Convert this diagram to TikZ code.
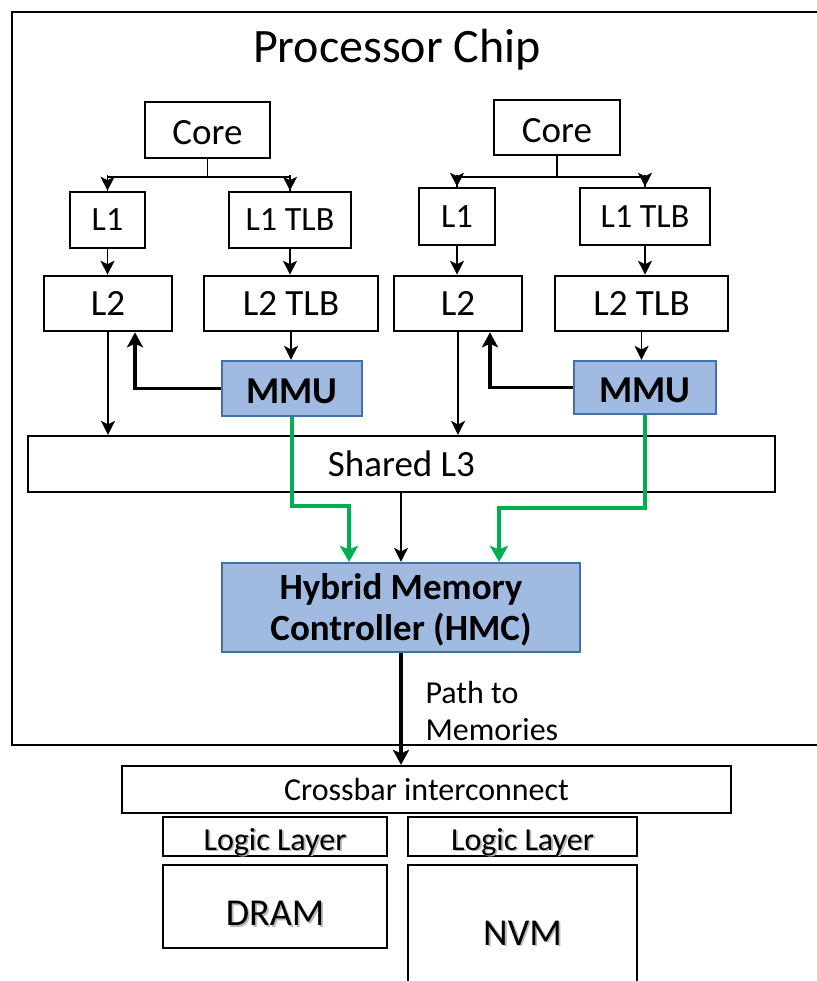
\documentclass[tikz,border=0pt]{standalone}
\usepackage{fontspec}
\setmainfont{Carlito}
\usetikzlibrary{arrows.meta,calc}

\definecolor{mmufill}{RGB}{160,186,226}
\definecolor{mmuline}{RGB}{65,113,170}
\definecolor{pathgreen}{RGB}{0,176,80}

% text with a soft drop shadow
\newcommand\shtext[1]{\makebox[0pt][l]{\kern1.8pt\raisebox{-1.8pt}{\textcolor{black!28}{#1}}}#1}

\tikzset{
  box/.style={draw=black, line width=2.6pt, fill=white, inner sep=0pt,
              font=\fontsize{37}{40}\selectfont},
  unit/.style={box, draw=mmuline, fill=mmufill, line width=2.2pt,
               font=\bfseries\fontsize{38}{42}\selectfont},
  thin/.style={line width=1.6pt, -{Stealth[length=14pt,width=14pt,inset=3.5pt]}},
  thick/.style={line width=3.6pt, -{Stealth[length=15pt,width=16pt,inset=3.5pt]}},
  green/.style={draw=pathgreen, line width=4.2pt,
                -{Stealth[length=16pt,width=18pt,inset=3.5pt]}},
  plain/.style={line width=1.6pt},
}

\begin{document}
\begin{tikzpicture}[x=1pt,y=-1pt]
\useasboundingbox (0,0) rectangle (816,981);

% chip outline
\draw[line width=2.6pt] (12,12) rectangle (840,745);
\node[font=\fontsize{48}{50}\selectfont] (title) at (397,50) {Processor Chip};

% left core
\node[box, minimum width=125, minimum height=56, text height=30pt, text depth=0pt] (corea) at (207.5,130) {Core};
\node[box, minimum width=75, minimum height=56, font=\fontsize{34}{38}\selectfont] (l1a) at (107.5,220) {L1};
\node[box, minimum width=122, minimum height=56, font=\fontsize{34}{38}\selectfont] (tlb1a) at (290,220) {L1 TLB};
\node[box, minimum width=128, minimum height=55] (l2a) at (108,303.5) {L2};
\node[box, minimum width=174, minimum height=55] (tlb2a) at (291,303.5) {L2 TLB};
\node[unit, minimum width=140, minimum height=55, text height=30pt, text depth=0pt] (mmua) at (292,388.5) {MMU};

% right core
\node[box, minimum width=126, minimum height=55, text height=30pt, text depth=0pt] (coreb) at (557,127.5) {Core};
\node[box, minimum width=76, minimum height=57, font=\fontsize{34}{38}\selectfont] (l1b) at (457,216.5) {L1};
\node[box, minimum width=130, minimum height=57, font=\fontsize{34}{38}\selectfont] (tlb1b) at (645,216.5) {L1 TLB};
\node[box, minimum width=128, minimum height=55] (l2b) at (458,303.5) {L2};
\node[box, minimum width=173, minimum height=55] (tlb2b) at (641.5,303.5) {L2 TLB};
\node[unit, minimum width=142, minimum height=53, text height=30pt, text depth=0pt] (mmub) at (645,387.5) {MMU};

% shared parts
\node[box, line width=2.2pt, minimum width=747, minimum height=56] (l3) at (401.5,464) {Shared L3};
\node[unit, minimum width=358, minimum height=89, align=center,
      font=\bfseries\fontsize{37}{41}\selectfont] (hmc) at (401,607.5)
      {\rule{0pt}{30pt}Hybrid Memory\\Controller (HMC)};
\node[anchor=west, align=left, font=\fontsize{32}{37}\selectfont] (pathlbl) at (422,711) {Path to\\Memories};

% memory side
\node[box, line width=2.2pt, minimum width=609, minimum height=47, font=\fontsize{32}{36}\selectfont] (xbar) at (426.5,789.5) {Crossbar interconnect};
\node[box, minimum width=224, minimum height=39, font=\fontsize{32}{36}\selectfont,
      text height=27pt, text depth=0pt] (lla) at (275,836.5) {\shtext{Logic Layer}};
\node[box, minimum width=229, minimum height=39, font=\fontsize{32}{36}\selectfont,
      text height=27pt, text depth=0pt] (llb) at (522.5,836.5) {\shtext{Logic Layer}};
\node[box, minimum width=224, minimum height=83, font=\fontsize{38}{40}\selectfont,
      text height=38pt, text depth=0pt] (dram) at (275,906.5) {\shtext{DRAM}};
\node[box, minimum width=229, minimum height=150, font=\fontsize{38}{40}\selectfont,
      text height=10pt, text depth=0pt] (nvm) at (522.5,940) {\shtext{NVM}};

% core fan-out
\coordinate (forka) at ($(corea.south)+(0,18)$);
\draw[plain] (corea.south) -- (forka);
\draw[plain] (forka) -| (l1a.north) (forka) -| (tlb1a.north);
\draw[thin] ($(l1a.north)+(0,-16)$) -- (l1a.north);
\draw[thin] ($(tlb1a.north)+(0,-16)$) -- (tlb1a.north);

\coordinate (forkb) at ($(coreb.south)+(0,21)$);
\draw[plain] (coreb.south) -- (forkb);
\draw[plain] (forkb) -| (l1b.north) (forkb) -| (tlb1b.north);
\draw[thin] ($(l1b.north)+(0,-12)$) -- (l1b.north);
\draw[thin] ($(tlb1b.north)+(0,-12)$) -- (tlb1b.north);

% level-to-level
\draw[thin] (l1a.south) -- (l1a.south |- l2a.north);
\draw[thin] (tlb1a.south) -- (tlb1a.south |- tlb2a.north);
\draw[thin] (tlb2a.south) -- (tlb2a.south |- mmua.north);
\draw[thin] (l1b.south) -- (l1b.south |- l2b.north);
\draw[thin] (tlb1b.south) -- (tlb1b.south |- tlb2b.north);
\draw[thin] (tlb2b.south) -- (tlb2b.south |- mmub.north);

\draw[thin] (l2a.south) -- (l2a.south |- l3.north);
\draw[thin] (l2b.south) -- (l2b.south |- l3.north);
\draw[thin] (l3.south -| hmc.north) -- (hmc.north);

% MMU back to L2
\draw[thick] (mmua.west) -| ([xshift=27pt]l2a.south);
\draw[thick] (mmub.west) -| ([xshift=32pt]l2b.south);

% MMU to memory controller
\draw[green] (mmua.south) -- ++(0,89) -| ([xshift=-52pt]hmc.north);
\draw[green] (mmub.south) -- ++(0,93) -| ([xshift=98pt]hmc.north);

% controller to memories
\draw[thick] (hmc.south) -- (hmc.south |- xbar.north);
\end{tikzpicture}
\end{document}
